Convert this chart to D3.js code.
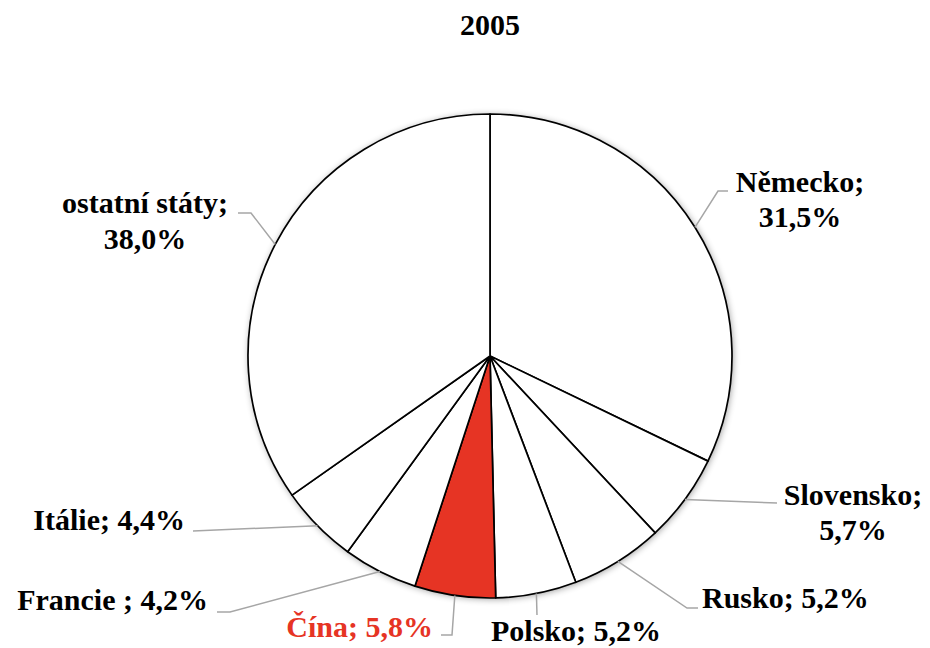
<!DOCTYPE html>
<html><head><meta charset="utf-8">
<script src="https://cdn.jsdelivr.net/npm/d3@7"></script>
<style>body{margin:0;background:#fff}svg{display:block}</style>
</head><body>
<script>
const title = "2005";
const countries = ["Německo", "Slovensko", "Rusko", "Polsko", "Čína", "Francie ", "Itálie", "ostatní státy"];
// shares as printed in the labels
const labelShares = [31.5, 5.7, 5.2, 5.2, 5.8, 4.2, 4.4, 38.0];
// slice sizes as drawn in the picture (angular share, %)
const sliceShares = [32.2, 5.9, 6.2, 5.4, 5.4, 5.0, 5.25, 34.8];
const highlight = "Čína";

const W = 930, H = 648, cx = 490, cy = 356, R = 242;
const fontFam = "'Liberation Serif','Times New Roman',serif";
const FS = 30;
const layout = {
  "Německo": {x: 800, y: 192, anchor: "middle", two: true, gap: 35, pts: [[718,191],[728,191]]},
  "Slovensko": {x: 853, y: 505, anchor: "middle", two: true, gap: 35, pts: [[777,503]]},
  "Rusko": {x: 702, y: 608, anchor: "start", two: false, pts: [[687,608],[698,608]]},
  "Polsko": {x: 576, y: 641, anchor: "middle", two: false, pts: [[537,615]]},
  "Čína": {x: 433, y: 637, anchor: "end", two: false, pts: [[452,635],[441,635]]},
  "Francie ": {x: 208, y: 610, anchor: "end", two: false, pts: [[230,612],[217,612]]},
  "Itálie": {x: 185, y: 530, anchor: "end", two: false, pts: [[193,531]]},
  "ostatní státy": {x: 145, y: 213, anchor: "middle", two: true, gap: 36, pts: [[251,213],[238,213]]}
};

const data = countries.map((c, i) => ({name: c, value: sliceShares[i], label: labelShares[i]}));
const svg = d3.select("body").append("svg").attr("width", W).attr("height", H);

const defs = svg.append("defs");
const f = defs.append("filter").attr("id", "sh").attr("x", "-20%").attr("y", "-20%").attr("width", "140%").attr("height", "140%");
f.append("feGaussianBlur").attr("in", "SourceAlpha").attr("stdDeviation", 3.5).attr("result", "b");
f.append("feOffset").attr("in", "b").attr("dx", 1).attr("dy", 1).attr("result", "o");
f.append("feComponentTransfer").attr("in", "o").attr("result", "o2").append("feFuncA").attr("type", "linear").attr("slope", 0.4);
const m = f.append("feMerge");
m.append("feMergeNode").attr("in", "o2");
m.append("feMergeNode").attr("in", "SourceGraphic");

svg.append("text").attr("x", 490).attr("y", 35).attr("text-anchor", "middle")
  .attr("font-family", fontFam).attr("font-weight", "bold").attr("font-size", FS).text(title);

const pie = d3.pie().value(d => d.value).sort(null);
const arcs = pie(data);
const arc = d3.arc().innerRadius(0).outerRadius(R);

const g = svg.append("g").attr("transform", `translate(${cx},${cy})`);
g.append("circle").attr("r", R).attr("fill", "#fff").attr("filter", "url(#sh)");
g.selectAll("path").data(arcs).join("path")
  .attr("d", arc)
  .attr("fill", d => d.data.name === highlight ? "#e63424" : "#fff")
  .attr("stroke", "#000").attr("stroke-width", 1.7).attr("stroke-linejoin", "round");

const fmt = v => v.toFixed(1).replace(".", ",") + "%";
const lab = svg.append("g");
arcs.forEach(a => {
  const L = layout[a.data.name];
  const mid = (a.startAngle + a.endAngle) / 2;
  const sx = cx + R * Math.sin(mid), sy = cy - R * Math.cos(mid);
  const pts = [[sx, sy]].concat(L.pts);
  lab.append("path").attr("d", d3.line()(pts)).attr("fill", "none")
    .attr("stroke", "#a6a6a6").attr("stroke-width", 1.5);
  const col = a.data.name === highlight ? "#e63424" : "#000";
  const t = lab.append("text").attr("text-anchor", L.anchor)
    .attr("font-family", fontFam).attr("font-weight", "bold").attr("font-size", FS).attr("fill", col);
  if (L.two) {
    t.append("tspan").attr("x", L.x).attr("y", L.y).text(a.data.name + ";");
    t.append("tspan").attr("x", L.x).attr("y", L.y + L.gap).text(fmt(a.data.label));
  } else {
    t.attr("x", L.x).attr("y", L.y).text(a.data.name + "; " + fmt(a.data.label));
  }
});
</script>
</body></html>
